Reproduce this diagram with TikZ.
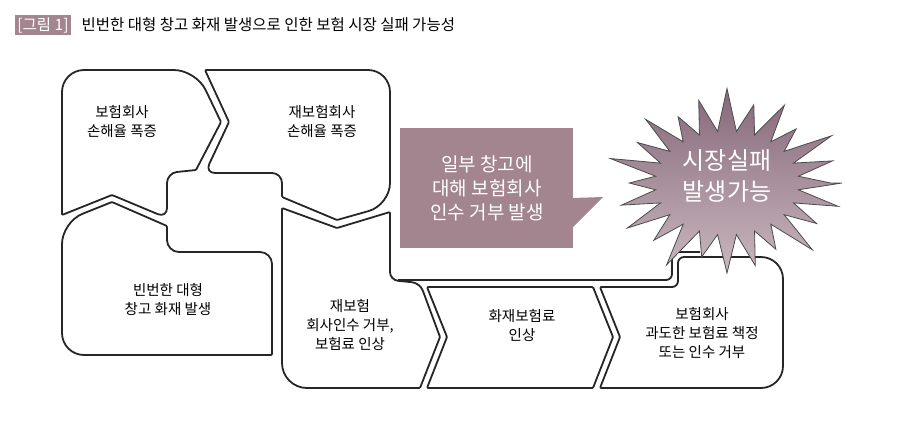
\documentclass[tikz,border=0pt]{standalone}
\usepackage{fontspec}
\setmainfont{Noto Sans CJK KR}
\usetikzlibrary{positioning}
\definecolor{mauve}{HTML}{A3858F}
\definecolor{mauvedark}{HTML}{86687A}
\definecolor{mauvelight}{HTML}{C9B7BE}
\tikzset{
  piece/.style={draw=black!85, line width=1.8pt, fill=white, line join=round},
  lbl/.style={align=center, font=\fontsize{14.5}{19}\selectfont},
  big/.style={align=center, text=white, font=\fontsize{19}{24}\selectfont}
}
\begin{document}
\begin{tikzpicture}[x=1pt, y=-1pt]
    \useasboundingbox (0,0) rectangle (920,426);
    % title
    \node[fill=mauve, text=white, inner sep=2.5pt, font=\fontsize{15.5}{17}\selectfont] (tag) at (43,25) {[그림 1]};
    \node[anchor=west, font=\fontsize{15.5}{17}\selectfont] (title) at (78,25) {빈번한 대형 창고 화재 발생으로 인한 보험 시장 실패 가능성};
    % pieces
    \draw[piece, rounded corners=22pt] (62,215) -- (62,70) -- (196,70) [rounded corners=1pt] -- (221,122) -- (196,170) [rounded corners=10pt] -- (167,173) -- (167,218) [rounded corners=1pt] -- (112,195) -- cycle;
    \draw[piece, rounded corners=22pt] (205,70) -- (390,70) -- (390,205) [rounded corners=1pt] -- (337,220) -- (282,197) [rounded corners=10pt] -- (282,173) -- (205,173) [rounded corners=1pt] -- (229,122) -- cycle;
    \draw[piece, rounded corners=22pt] (62,222) [rounded corners=1pt] -- (112,202) -- (167,226) [rounded corners=12pt] -- (167,252) -- (272,252) [rounded corners=1pt] -- (272,355) [rounded corners=22pt] -- (62,355) -- cycle;
    \draw[piece, rounded corners=1pt] (282,208) -- (337,228) -- (390,212) [rounded corners=8pt] -- (390,280) -- (420,283) [rounded corners=1pt] -- (440,337) -- (420,388) [rounded corners=25pt] -- (282,388) [rounded corners=1pt] -- cycle;
    \draw[piece, rounded corners=1pt] (427,287) -- (593,287) -- (613,337) -- (593,388) -- (427,388) -- (447,337) -- cycle;
    \draw[piece, rounded corners=1pt] (600,287) [rounded corners=6pt] -- (678,287) -- (678,257) [rounded corners=22pt] -- (783,257) -- (783,388) [rounded corners=1pt] -- (600,388) -- (620,337) -- cycle;
    \draw[draw=black!85, line width=1.8pt, rounded corners=6pt] (398,280) -- (672,280) -- (672,252) -- (700,252);
    % callout
    \fill[mauve] (400,128) rectangle (573,248);
    \fill[mauve] (572,198) -- (603,197) -- (572,228) -- cycle;
    \node[big] (callout) at (487,188) {일부 창고에\\대해 보험회사\\인수 거부 발생};
    % burst
    \shade[top color=mauvedark, bottom color=mauvelight, draw=black!70, line width=0.8pt]
      (727+115,183)
      \foreach \i/\f in {0/1.0,1/0.9,2/1.05,3/0.85,4/0.95,5/1.0,6/0.85,7/1.05,8/0.9,9/1.0,10/0.95,11/0.85,
                         12/1.05,13/0.9,14/1.0,15/0.85,16/0.95,17/1.05,18/0.9,19/1.0,20/0.85,21/1.05,22/0.95,23/0.9}
        { -- ({727+72*cos(\i*15+7.5)},{183+52*sin(\i*15+7.5)}) -- ({727+115*\f*cos(\i*15+15)},{183+90*\f*sin(\i*15+15)}) }
      -- cycle;
    \node[big, font=\fontsize{24}{31}\selectfont] (burst) at (727,176) {시장실패\\발생가능};
    % labels
    \node[lbl] (loss) at (122,122) {보험회사\\손해율 폭증};
    \node[lbl] (reloss) at (322,122) {재보험회사\\손해율 폭증};
    \node[lbl] (fire) at (168,300) {빈번한 대형\\창고 화재 발생};
    \node[lbl] (refuse) at (350,325) {재보험\\회사인수 거부,\\보험료 인상};
    \node[lbl] (premium) at (522,325) {화재보험료\\인상};
    \node[lbl] (insurer) at (702,333) {보험회사\\과도한 보험료 책정\\또는 인수 거부};
\end{tikzpicture}
\end{document}
